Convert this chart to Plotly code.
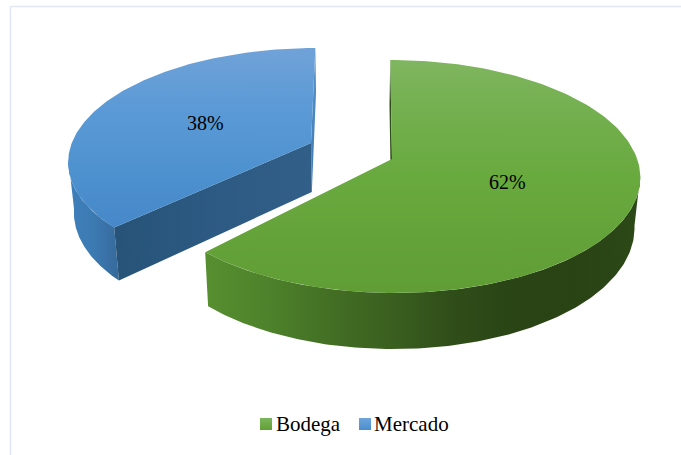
import numpy as np
import plotly.graph_objects as go

# Survey shares
categories = ["Bodega", "Mercado"]
shares = [62, 38]
share_labels = ["62%", "38%"]

FONT = "Liberation Serif"
VANISH_X = 351.0


def pct_to_deg(p):
    return 360.0 * p / sum(shares)


def face_point(theta, radius, s):
    """Project a point of one exploded wedge's top face to canvas pixels."""
    u = radius * np.sin(np.radians(theta))
    v = radius * np.cos(np.radians(theta))
    d = 1 + s["persp"] * v
    x = s["ax"] + (s["rx"] * u + s["lean"] * v) / d
    y = s["ay"] - s["ry"] * v / d
    return x, y


def drop(x, y):
    """Move a top-face point down to the base of the extruded pie."""
    x = np.asarray(x, float)
    y = np.asarray(y, float)
    return VANISH_X + (x - VANISH_X) * 0.98, y + 49 + 0.047 * (y - 143)


def ramp(stops):
    n = len(stops) - 1
    return [[i / n, c] for i, c in enumerate(stops)]


def poly(x, y, orient, stops):
    # Vertical ramps are listed top to bottom; the y axis runs downwards here
    scale = stops[::-1] if orient == "vertical" else stops
    return go.Scatter(
        x=list(x), y=list(y), mode="lines", fill="toself",
        line=dict(width=0), hoverinfo="skip", showlegend=False,
        fillcolor=stops[0],
        fillgradient=dict(type=orient, colorscale=ramp(scale)),
    )


def arc(t0, t1, s, n=160):
    t = np.linspace(t0, t1, n)
    return face_point(t, 1.0, s)


def radial_wall(theta, s, orient, stops):
    tx, ty = face_point(np.array([theta, theta]), np.array([0.0, 1.0]), s)
    bx, by = drop(tx, ty)
    return poly([tx[0], tx[1], bx[1], bx[0]], [ty[0], ty[1], by[1], by[0]], orient, stops)


green = dict(ax=392, ay=159, rx=245.2, ry=113.9, persp=0.15, lean=-2)
blue = dict(ax=311, ay=143, rx=239.2, ry=109.4, persp=0.152, lean=5)

sweep_green = pct_to_deg(shares[0])
blue_start = sweep_green + 3.0  # front edge sits slightly lower in this view

fig = go.Figure()

# Blue wedge: back sliver, outer rim, cut face, top
fig.add_trace(radial_wall(0.0, blue, "vertical", ["#5a94cc", "#3c78ae"]))

ax_, ay_ = arc(blue_start, 262, blue)
bx, by = drop(ax_, ay_)
fig.add_trace(poly(np.r_[ax_, bx[::-1]], np.r_[ay_, by[::-1]],
                   "horizontal", ["#3f80bb", "#3c7ab2", "#36699b"]))

fig.add_trace(radial_wall(blue_start, blue, "horizontal", ["#275378", "#2c5a82", "#325f88"]))

ax_, ay_ = arc(blue_start, 360, blue)
fig.add_trace(poly(np.r_[blue["ax"], ax_], np.r_[blue["ay"], ay_],
                   "vertical", ["#70a2d8", "#5b9ad6", "#4f92d0", "#4688c8"]))

# Green wedge: back sliver, outer rim, top
fig.add_trace(radial_wall(0.0, green, "vertical", ["#2f4f1a", "#2f4f1a"]))

ax_, ay_ = arc(98, sweep_green, green)
bx, by = drop(ax_, ay_)
fig.add_trace(poly(np.r_[ax_, bx[::-1]], np.r_[ay_, by[::-1]], "horizontal",
                   ["#578f30", "#4e822b", "#436f24", "#3a5f1f", "#2f4d19", "#2a4415", "#2a4315", "#2c4917"]))

ax_, ay_ = arc(0, sweep_green, green)
fig.add_trace(poly(np.r_[green["ax"], ax_], np.r_[green["ay"], ay_],
                   "vertical", ["#7fb55f", "#72af4d", "#69aa3f", "#64a339", "#609e35"]))

# Legend swatches (square keys with the same vertical sheen as the faces)
for x0, stops in zip([260, 359], [["#7ab55c", "#62a035"], ["#6ea5dc", "#4a8ecd"]]):
    fig.add_trace(poly([x0, x0 + 12, x0 + 12, x0], [418, 418, 430, 430], "vertical", stops))

annotations = [
    dict(x=507, y=182, text=share_labels[0]),
    dict(x=205, y=123, text=share_labels[1]),
    dict(x=274, y=424, text=categories[0], xanchor="left"),
    dict(x=372, y=424, text=categories[1], xanchor="left"),
]
for a in annotations:
    a.setdefault("xanchor", "center")
    a.update(yanchor="middle", showarrow=False,
             font=dict(family=FONT, size=20 if "%" in a["text"] else 21, color="#000000"))

fig.update_layout(
    width=681, height=455, margin=dict(l=0, r=0, t=0, b=0),
    paper_bgcolor="white", plot_bgcolor="white", showlegend=False,
    xaxis=dict(range=[0, 681], visible=False, fixedrange=True),
    yaxis=dict(range=[455, 0], visible=False, fixedrange=True),
    annotations=annotations,
    shapes=[dict(type="rect", xref="x", yref="y", x0=10.5, y0=6.5, x1=700, y1=470,
                 line=dict(color="#e2e8f1", width=1.5), layer="below")],
)
fig.write_html("out.html", config=dict(displayModeBar=False))
